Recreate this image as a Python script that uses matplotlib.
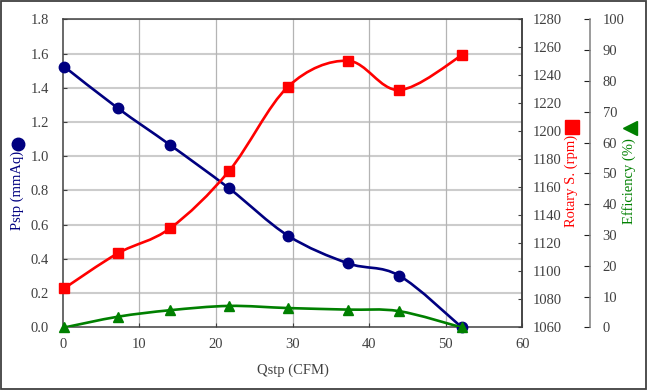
import numpy as np
import matplotlib
matplotlib.use('Agg')
from matplotlib import pyplot as plt
from matplotlib.path import Path
from matplotlib.patches import PathPatch, Rectangle
from matplotlib.lines import Line2D

# data
qstp = [0.2, 7.2, 14.0, 21.7, 29.4, 37.2, 43.9, 52.1]
pstp = [1.523, 1.28, 1.066, 0.813, 0.536, 0.375, 0.303, 0.0]
rotary = [1088.0, 1113.0, 1130.8, 1171.7, 1231.9, 1250.4, 1229.5, 1254.3]
efficiency = [0.0, 3.5, 5.6, 7.0, 6.3, 5.8, 5.3, 0.0]

x_ticks = [0, 10, 20, 30, 40, 50, 60]
pstp_ticks = [0.0, 0.2, 0.4, 0.6, 0.8, 1.0, 1.2, 1.4, 1.6, 1.8]
rotary_ticks = [1060, 1080, 1100, 1120, 1140, 1160, 1180, 1200, 1220, 1240, 1260, 1280]
eff_ticks = [0, 10, 20, 30, 40, 50, 60, 70, 80, 90, 100]

NAVY = '#000080'
RED = '#ff0000'
GREEN = '#008000'
TICK_COLOR = '#404040'
SERIF = ['Liberation Serif', 'DejaVu Serif']
SYMBOL = ['Liberation Serif', 'DejaVu Sans']

plt.rcParams['font.family'] = SERIF
plt.rcParams['font.size'] = 10.5


def smooth_path(xs, ys):
    # Excel style smooth line: catmull-rom segments as cubic beziers
    pts = np.column_stack([xs, ys]).astype(float)
    ext = np.vstack([pts[0], pts, pts[-1]])
    verts = [pts[0]]
    codes = [Path.MOVETO]
    for i in range(len(pts) - 1):
        p0, p1, p2, p3 = ext[i], ext[i + 1], ext[i + 2], ext[i + 3]
        c1 = p1 + (p2 - p0) / 6.0
        c2 = p2 - (p3 - p1) / 6.0
        verts += [c1, c2, p2]
        codes += [Path.CURVE4] * 3
    return Path(verts, codes)


def draw_series(ax, xs, ys, color, marker, ms, z):
    patch = PathPatch(smooth_path(xs, ys), facecolor='none', edgecolor=color,
                      lw=1.9, zorder=z, capstyle='round', joinstyle='round')
    ax.add_patch(patch)
    ax.plot(xs, ys, linestyle='none', marker=marker, ms=ms, color=color,
            markeredgecolor=color, zorder=z + 1, clip_on=False)


fig = plt.figure(figsize=(6.47, 3.90), dpi=100)
fig.patch.set_facecolor('white')
fig.patches.append(Rectangle((0.0015, 0.0025), 0.997, 0.995, transform=fig.transFigure,
                             fill=False, edgecolor='#404040', lw=1.3))

ax = fig.add_axes([0.0971, 0.1603, 0.7104, 0.7903])
ax.set_xlim(0, 60)
ax.set_ylim(0, 1.8)
ax.set_xticks(x_ticks)
ax.set_yticks(pstp_ticks)
ax.set_yticklabels(['%.1f' % v for v in pstp_ticks])
for v in pstp_ticks[1:]:
    ax.axhline(v, color='#cccccc', lw=1.5, zorder=0)
for v in x_ticks[1:-1]:
    ax.axvline(v, color='#b4b4b4', lw=0.9, zorder=0)
for s in ax.spines.values():
    s.set_color('#404040')
    s.set_linewidth(1.1)
ax.tick_params(axis='both', direction='in', length=3, colors=TICK_COLOR, labelsize=10.5)
ax.tick_params(axis='y', pad=10)
ax.tick_params(axis='x', pad=7.5)
ax.set_xlabel('Qstp (CFM)', color=TICK_COLOR, fontsize=10.5, labelpad=9)

ax2 = ax.twinx()
ax2.set_ylim(1060, 1280)
ax2.set_yticks(rotary_ticks)
for side in ['left', 'top', 'bottom']:
    ax2.spines[side].set_visible(False)
ax2.spines['right'].set_color('#404040')
ax2.spines['right'].set_linewidth(1.1)
ax2.tick_params(axis='y', direction='in', length=3, colors=TICK_COLOR, labelsize=10.5, pad=7.5)

ax3 = ax.twinx()
ax3.set_ylim(0, 100)
ax3.set_yticks(eff_ticks)
for side in ['left', 'top', 'bottom']:
    ax3.spines[side].set_visible(False)
ax3.spines['right'].set_position(('axes', 1.147))
ax3.spines['right'].set_color('#808080')
ax3.spines['right'].set_linewidth(1.1)
ax3.tick_params(axis='y', direction='in', length=4, colors=TICK_COLOR, labelsize=10.5, pad=9)
ax3.tick_params(axis='y', color='#202020')

draw_series(ax, qstp, pstp, NAVY, 'o', 7.5, 3)
draw_series(ax2, qstp, rotary, RED, 's', 7.0, 3)
draw_series(ax3, qstp, efficiency, GREEN, '^', 7.0, 3)

# axis titles with their series symbol, written as in the reference
W, H = 647.0, 390.0
fig.text(17.5 / W, 1 - 190.5 / H, 'Pstp (mmAq)', rotation=90, ha='center', va='center',
         color=NAVY, fontsize=10.5)
fig.text(571.5 / W, 1 - 181 / H, 'Rotary S. (rpm)', rotation=90, ha='center', va='center',
         color=RED, fontsize=10.5)
fig.text(629 / W, 1 - 181 / H, 'Efficiency (%)', rotation=90, ha='center', va='center',
         color=GREEN, fontsize=10.5)
fig.lines.append(Line2D([17.5 / W], [1 - 144 / H], marker='o', ms=9, color=NAVY,
                        transform=fig.transFigure))
fig.lines.append(Line2D([571.5 / W], [1 - 127 / H], marker='s', ms=9.5, color=RED,
                        transform=fig.transFigure))
fig.lines.append(Line2D([630 / W], [1 - 127.5 / H], marker='<', ms=10, color=GREEN,
                        transform=fig.transFigure))

fig.savefig('out.png', dpi=100)
